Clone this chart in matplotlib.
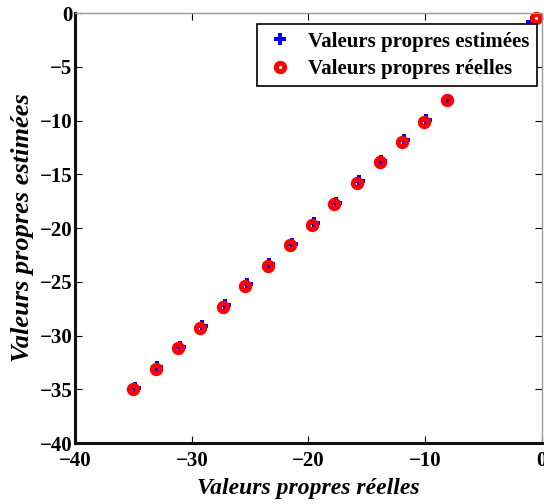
import matplotlib
matplotlib.use("Agg")
import matplotlib.pyplot as plt

# Eigenvalues: true values and their estimates
real_vals = [-35.0, -33.1, -31.2, -29.3, -27.3, -25.4, -23.5, -21.6,
             -19.7, -17.8, -15.8, -13.9, -12.0, -10.1, -8.1, -0.5]
est_vals = [-34.85, -32.95, -31.05, -29.15, -27.15, -25.25, -23.35, -21.45,
            -19.55, -17.65, -15.65, -13.75, -11.85, -9.95, -8.1, -0.8]

xticks = [-40, -30, -20, -10, 0]
yticks = [0, -5, -10, -15, -20, -25, -30, -35, -40]

plt.rcParams['font.family'] = ['Liberation Serif', 'DejaVu Serif']

fig = plt.figure(figsize=(5.44, 5.04), dpi=100)
ax = fig.add_axes([0.138, 0.121, 0.858, 0.853])

ax.plot(est_vals, est_vals, linestyle='none', marker='P', color='blue',
        markersize=8.5, markeredgewidth=0, clip_on=False,
        label='Valeurs propres estimées')
ax.plot(real_vals, real_vals, linestyle='none', marker='o', markerfacecolor='none',
        markeredgecolor='red', markersize=6, markeredgewidth=3.6, clip_on=False,
        label='Valeurs propres réelles')

ax.set_xlim(-40, 0)
ax.set_ylim(-40, 0)
ax.set_xticks(xticks)
ax.set_yticks(yticks)
ax.set_xticklabels([f"\u2212{abs(v)}" if v < 0 else str(v) for v in xticks])
ax.set_yticklabels([f"\u2212{abs(v)}" if v < 0 else str(v) for v in yticks])
ax.tick_params(direction='in', length=5, width=0.8, top=True, right=True,
               labelsize=15, colors='black')
ax.tick_params(axis='x', pad=6)
ax.tick_params(axis='y', pad=2)
for lab in ax.get_xticklabels() + ax.get_yticklabels():
    lab.set_fontweight('bold')

for side in ('left', 'bottom'):
    ax.spines[side].set_linewidth(2.2)
    ax.spines[side].set_color('#111111')
for side in ('right', 'top'):
    ax.spines[side].set_linewidth(1.0)
    ax.spines[side].set_color('#999999')

ax.set_xlabel('Valeurs propres réelles', fontsize=17, fontweight='bold',
              fontstyle='italic', labelpad=5)
ax.set_ylabel('Valeurs propres estimées', fontsize=19, fontweight='bold',
              fontstyle='italic', labelpad=4)

leg = ax.legend(loc='upper right', bbox_to_anchor=(0.989, 0.974),
                prop={'size': 15, 'weight': 'bold'}, frameon=True,
                fancybox=False, edgecolor='black', framealpha=1,
                borderpad=0.35, handletextpad=0.6, labelspacing=0.35,
                handlelength=1.5, borderaxespad=0)
leg.get_frame().set_linewidth(1.2)

fig.savefig('out.png', dpi=100)
